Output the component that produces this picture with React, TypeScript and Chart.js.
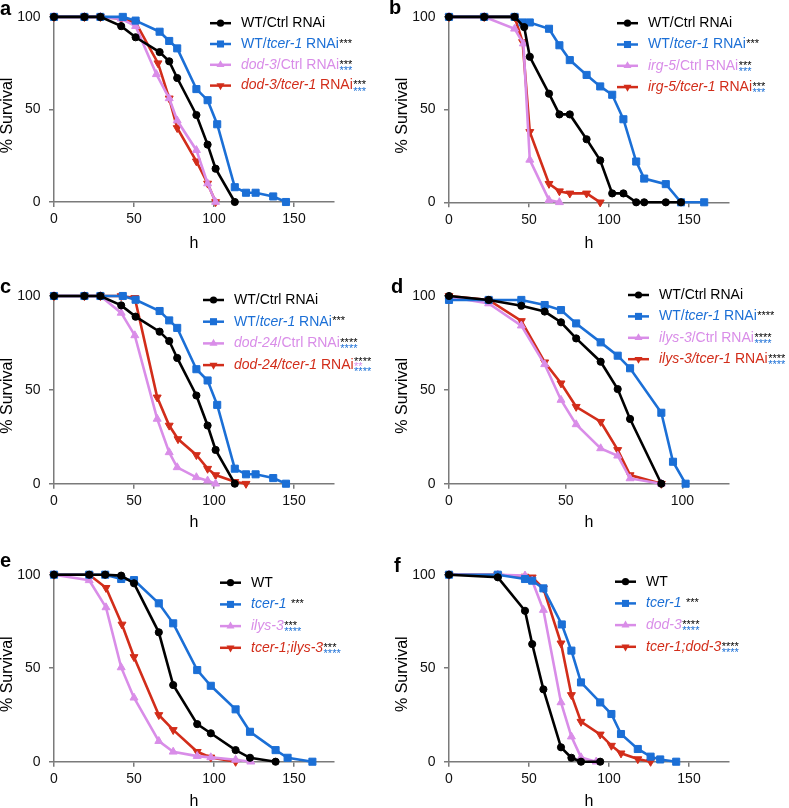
import React, { useEffect, useRef } from "react";
import { Chart, registerables } from "chart.js";

Chart.register(...registerables);

const FONT = '"Liberation Sans", Arial, Helvetica, sans-serif';
const BLACK = "#000000";
const BLUE = "#1b6fd6";
const PINK = "#d98de8";
const RED = "#d22d1a";
const AXIS = "#7a7a7a";

// ---- tick labels ----
const yTicks = [0, 50, 100];
const xTicksWide = [0, 50, 100, 150];
const xTicksD = [0, 50, 100];

// ---- panel a (hours, % survival) ----
const aWtCtrl = [[0, 100], [19, 100], [29, 100], [42, 95], [51, 89], [66, 81], [72, 76], [77, 67], [89, 47], [96, 31], [101, 18], [113, 0]];
const aWtTcer = [[0, 100], [19, 100], [29, 100], [43, 100], [51, 98], [66, 92], [72, 87], [77, 83], [89, 61], [96, 55], [102, 42], [113, 8], [120, 5], [126, 5], [137, 3], [145, 0]];
const aMutCtrl = [[0, 100], [19, 100], [29, 100], [42, 99], [51, 95], [64, 69], [72, 56], [77, 44], [89, 28], [96, 10], [101, 0]];
const aMutTcer = [[0, 100], [19, 100], [29, 100], [42, 99], [51, 97], [65, 75], [72, 56], [77, 40], [89, 22], [96, 10], [101, 0]];

// ---- panel b ----
const bWtCtrl = [[0, 100], [22, 100], [41, 100], [47, 94.5], [50.5, 78.5], [62.5, 58.6], [69, 47.4], [75.5, 47.4], [86, 34], [94.5, 22.6], [102, 4.8], [109, 4.8], [117, 0], [122, 0], [135.5, 0], [145, 0]];
const bWtTcer = [[0, 100], [22, 100], [41, 100], [46, 97], [50.5, 97], [62.5, 93.6], [69, 84.7], [75.5, 76.7], [86, 68.7], [94.5, 62.5], [102, 58], [109, 44.8], [117, 22], [122, 12.8], [135.5, 9.8], [145, 0], [159.5, 0]];
const bMutCtrl = [[0, 100], [22, 100], [41, 93.6], [46.5, 85.6], [50.5, 22.9], [62.5, 1.2], [69, 0]];
const bMutTcer = [[0, 100], [22, 100], [41, 100], [46, 86.5], [50.5, 38], [62.5, 10], [69, 6], [75.5, 4.8], [86, 4.8], [94.5, 0]];

// ---- panel c ----
const cWtCtrl = [[0, 100], [19, 100], [29, 100], [42, 95], [51, 89], [66, 81], [72, 76], [77, 67], [89, 47], [96, 31], [101, 18], [113, 0]];
const cWtTcer = [[0, 100], [19, 100], [29, 100], [43, 100], [51, 98], [66, 92], [72, 87], [77, 83], [89, 61], [96, 55], [102, 42], [113, 8], [120, 5], [126, 5], [137, 3], [145, 0]];
const cMutCtrl = [[0, 100], [19, 100], [29, 100], [42, 91], [50.5, 79], [64.5, 34.5], [72, 16.7], [77, 8.7], [89, 3.4], [96, 1.6], [101, 0]];
const cMutTcer = [[0, 100], [19, 100], [29, 100], [42, 100], [50.5, 99], [64.5, 46], [72, 31], [77.5, 23.8], [89, 15.3], [96, 8], [101, 4.6], [113, 1], [120, 0]];

// ---- panel d ----
const dWtCtrl = [[0, 100], [17, 97.9], [31, 94.8], [41, 91.7], [48, 86], [54.5, 77.4], [65, 65], [72.3, 50.4], [77.6, 34.5], [91, 0]];
const dWtTcer = [[0, 97.9], [17, 97.9], [31, 97.9], [41, 95.2], [48, 92.5], [54.5, 85.4], [65, 75.3], [72.3, 68.2], [77.6, 61.5], [91, 37.8], [96, 11.7], [101.4, 0]];
const dMutCtrl = [[0, 99.6], [17, 96], [31, 84.2], [41, 63.6], [48, 44.6], [54.5, 31.6], [65, 18.8], [72.3, 14.9], [77.6, 2.8], [91, 0]];
const dMutTcer = [[0, 100], [17, 97.9], [31, 86.7], [41, 64.7], [48, 53.5], [54.5, 41], [65, 33], [72.3, 18], [77.6, 4.6], [91, 0]];

// ---- panel e ----
const eWt = [[0, 100], [22, 100], [32, 100], [42, 99.5], [50, 95.4], [65.5, 69.2], [74.5, 41], [89.5, 20.1], [98, 15.2], [113.5, 6.2], [122.5, 2.1], [138.5, 0]];
const eTcer = [[0, 100], [22, 100], [32, 100], [42, 97.7], [50, 97.1], [65.5, 84.7], [74.5, 74], [89.5, 49], [98, 40.6], [113.5, 28], [122.5, 16], [138.5, 6.2], [146, 2.1], [161.5, 0]];
const eMut = [[0, 100], [22, 97], [32.5, 82.5], [42, 50.4], [50, 34.2], [65.5, 11], [74.5, 5.3], [89.5, 3], [98, 2.3], [113.5, 1], [123, 0]];
const eDouble = [[0, 100], [22, 100], [32.5, 93], [42.5, 73.4], [50, 56], [65.5, 25], [74.5, 17], [89.5, 5.3], [98, 2.3], [113.5, 0]];

// ---- panel f ----
const fWt = [[0, 100], [30.5, 98.6], [47.5, 80.7], [52, 62.9], [59, 38.7], [70, 7.7], [76.5, 2.1], [82.5, 0], [94.5, 0]];
const fTcer = [[0, 100], [30.5, 100], [47.5, 97.7], [52, 96.8], [59, 92.7], [70.5, 73.4], [76.5, 59.4], [82.5, 42.4], [94.5, 31.7], [101.5, 25.5], [107.5, 14.8], [118, 6.8], [126, 2.7], [132, 1.2], [142, 0]];
const fMut = [[0, 100], [30.5, 100], [47.5, 99.5], [52, 96.8], [59, 81.1], [70, 31.7], [76.5, 13.4], [82.5, 2.3], [92, 0]];
const fDouble = [[0, 100], [30.5, 100], [47.5, 99], [52, 98.6], [59, 92.7], [70, 63.3], [76.5, 35.7], [82.5, 21.4], [94.5, 14.6], [101.5, 8.6], [107.5, 4.5], [118, 1.4], [126, 0]];

// ---- legend labels: [text, italic] segments and significance stars ----
type Seg = [string, boolean];
type Star = [string, string];
type Entry = { seg: Seg[]; stars: Star[] };

const aLegend: Entry[] = [
  { seg: [["WT/Ctrl RNAi", false]], stars: [] },
  { seg: [["WT/", false], ["tcer-1", true], [" RNAi", false]], stars: [["***", BLACK]] },
  { seg: [["dod-3", true], ["/Ctrl RNAi", false]], stars: [["***", BLACK], ["***", BLUE]] },
  { seg: [["dod-3/tcer-1", true], [" RNAi", false]], stars: [["***", BLACK], ["***", BLUE]] },
];
const bLegend: Entry[] = [
  { seg: [["WT/Ctrl RNAi", false]], stars: [] },
  { seg: [["WT/", false], ["tcer-1", true], [" RNAi", false]], stars: [["***", BLACK]] },
  { seg: [["irg-5", true], ["/Ctrl RNAi", false]], stars: [["***", BLACK], ["***", BLUE]] },
  { seg: [["irg-5/tcer-1", true], [" RNAi", false]], stars: [["***", BLACK], ["***", BLUE]] },
];
const cLegend: Entry[] = [
  { seg: [["WT/Ctrl RNAi", false]], stars: [] },
  { seg: [["WT/", false], ["tcer-1", true], [" RNAi", false]], stars: [["***", BLACK]] },
  { seg: [["dod-24", true], ["/Ctrl RNAi", false]], stars: [["****", BLACK], ["****", BLUE]] },
  { seg: [["dod-24/tcer-1", true], [" RNAi", false]], stars: [["****", BLACK], ["**", PINK], ["****", BLUE]] },
];
const dLegend: Entry[] = [
  { seg: [["WT/Ctrl RNAi", false]], stars: [] },
  { seg: [["WT/", false], ["tcer-1", true], [" RNAi", false]], stars: [["****", BLACK]] },
  { seg: [["ilys-3", true], ["/Ctrl RNAi", false]], stars: [["****", BLACK], ["****", BLUE]] },
  { seg: [["ilys-3/tcer-1", true], [" RNAi", false]], stars: [["****", BLACK], ["****", BLUE]] },
];
const eLegend: Entry[] = [
  { seg: [["WT", false]], stars: [] },
  { seg: [["tcer-1", true], [" ", false]], stars: [["***", BLACK]] },
  { seg: [["ilys-3", true]], stars: [["***", BLACK], ["****", BLUE]] },
  { seg: [["tcer-1;ilys-3", true]], stars: [["***", BLACK], ["****", BLUE]] },
];
const fLegend: Entry[] = [
  { seg: [["WT", false]], stars: [] },
  { seg: [["tcer-1", true], [" ", false]], stars: [["***", BLACK]] },
  { seg: [["dod-3", true]], stars: [["****", BLACK], ["****", BLUE]] },
  { seg: [["tcer-1;dod-3", true]], stars: [["****", BLACK], ["****", BLUE]] },
];

// series styles (order: black circle, blue square, pink up-triangle, red down-triangle)
const STYLES = [
  { color: BLACK, point: "circle", r: 3.6, rot: 0 },
  { color: BLUE, point: "rect", r: 5, rot: 0 },
  { color: PINK, point: "triangle", r: 4.6, rot: 0 },
  { color: RED, point: "triangle", r: 4.6, rot: 180 },
];

type PanelCfg = {
  letter: string;
  letterX: number;
  letterY: number;
  left: number;
  top: number;
  w: number;
  h: number;
  chartLeft: number;
  chartRight: number;
  chartTop: number;
  axisH: number;
  xMax: number;
  xTicks: number[];
  hOffset: number;
  lx: number;
  ly: number;
  gap: number;
  series: number[][][];
  legend: Entry[];
};

const PANELS: PanelCfg[] = [
  { letter: "a", letterX: 0, letterY: 15, left: 0, top: 0, w: 385, h: 265, chartLeft: 54, chartRight: 334, chartTop: 14.7, axisH: 63, xMax: 175, xTicks: xTicksWide, hOffset: 41.5, lx: 156, ly: 6.3, gap: 20.8, series: [aWtCtrl, aWtTcer, aMutCtrl, aMutTcer], legend: aLegend },
  { letter: "b", letterX: 4, letterY: 14, left: 385, top: 0, w: 404, h: 265, chartLeft: 64, chartRight: 344, chartTop: 14.7, axisH: 62.7, xMax: 175, xTicks: xTicksWide, hOffset: 41.7, lx: 168, ly: 6.3, gap: 21.3, series: [bWtCtrl, bWtTcer, bMutCtrl, bMutTcer], legend: bLegend },
  { letter: "c", letterX: 0, letterY: 28.3, left: 0, top: 265, w: 385, h: 270, chartLeft: 54, chartRight: 334, chartTop: 31, axisH: 51.3, xMax: 175, xTicks: xTicksWide, hOffset: 38.6, lx: 149, ly: 4, gap: 21.7, series: [cWtCtrl, cWtTcer, cMutCtrl, cMutTcer], legend: cLegend },
  { letter: "d", letterX: 6, letterY: 28.3, left: 385, top: 265, w: 404, h: 270, chartLeft: 64, chartRight: 344, chartTop: 31, axisH: 51.3, xMax: 120, xTicks: xTicksD, hOffset: 38.6, lx: 179, ly: -1, gap: 21.4, series: [dWtCtrl, dWtTcer, dMutCtrl, dMutTcer], legend: dLegend },
  { letter: "e", letterX: 0, letterY: 31.7, left: 0, top: 535, w: 385, h: 273, chartLeft: 54, chartRight: 334, chartTop: 39.7, axisH: 46.3, xMax: 175, xTicks: xTicksWide, hOffset: 40, lx: 166, ly: 8, gap: 21.7, series: [eWt, eTcer, eMut, eDouble], legend: eLegend },
  { letter: "f", letterX: 9, letterY: 36.7, left: 385, top: 535, w: 404, h: 273, chartLeft: 64, chartRight: 344, chartTop: 39.7, axisH: 46.3, xMax: 175, xTicks: xTicksWide, hOffset: 40, lx: 166, ly: 7, gap: 21.7, series: [fWt, fTcer, fMut, fDouble], legend: fLegend },
];

function drawMarker(ctx: CanvasRenderingContext2D, kind: string, x: number, y: number, r: number, rot: number) {
  ctx.beginPath();
  if (kind === "circle") {
    ctx.arc(x, y, r, 0, Math.PI * 2);
  } else if (kind === "rect") {
    const s = Math.SQRT1_2 * r;
    ctx.rect(x - s, y - s, 2 * s, 2 * s);
  } else {
    let rad = (rot * Math.PI) / 180;
    ctx.moveTo(x + Math.sin(rad) * r, y - Math.cos(rad) * r);
    rad += (2 * Math.PI) / 3;
    ctx.lineTo(x + Math.sin(rad) * r, y - Math.cos(rad) * r);
    rad += (2 * Math.PI) / 3;
    ctx.lineTo(x + Math.sin(rad) * r, y - Math.cos(rad) * r);
    ctx.closePath();
  }
  ctx.fill();
}

const overlayPlugin = {
  id: "panelOverlay",
  afterDraw(chart: any, _args: any, opts: any) {
    const p: PanelCfg = opts.panel;
    if (!p) return;
    const { ctx, chartArea } = chart;
    ctx.save();
    // panel letter
    ctx.fillStyle = "#000";
    ctx.textAlign = "left";
    ctx.textBaseline = "alphabetic";
    ctx.font = `bold 20px ${FONT}`;
    ctx.fillText(p.letter, p.letterX, p.letterY);

    // y title
    ctx.save();
    ctx.translate(chartArea.left - 46.5, (chartArea.top + chartArea.bottom) / 2 + 6);
    ctx.rotate(-Math.PI / 2);
    ctx.font = `16px ${FONT}`;
    ctx.textAlign = "center";
    ctx.textBaseline = "middle";
    ctx.fillText("% Survival", 0, 0);
    ctx.restore();

    // x title
    ctx.font = `16px ${FONT}`;
    ctx.textAlign = "center";
    ctx.textBaseline = "middle";
    ctx.fillText("h", (chartArea.left + chartArea.right) / 2, chartArea.bottom + p.hOffset);

    // legend
    p.legend.forEach((entry, i) => {
      const st = STYLES[i];
      const y = chartArea.top + p.ly + i * p.gap;
      const x0 = chartArea.left + p.lx;
      ctx.strokeStyle = st.color;
      ctx.fillStyle = st.color;
      ctx.lineWidth = 2.5;
      ctx.beginPath();
      ctx.moveTo(x0, y);
      ctx.lineTo(x0 + 21, y);
      ctx.stroke();
      drawMarker(ctx, st.point, x0 + 10.5, y, st.r, st.rot);

      let tx = x0 + 31;
      ctx.textAlign = "left";
      ctx.textBaseline = "middle";
      entry.seg.forEach(([t, it]) => {
        ctx.font = `${it ? "italic " : ""}14px ${FONT}`;
        ctx.fillStyle = st.color;
        ctx.fillText(t, tx, y);
        tx += ctx.measureText(t).width;
      });
      const n = entry.stars.length;
      const offs = n === 1 ? [-3.5] : n === 2 ? [-3.5, 2.8] : [-6, -1, 4];
      ctx.font = `11px ${FONT}`;
      ctx.textBaseline = "alphabetic";
      entry.stars.forEach(([t, c], k) => {
        ctx.fillStyle = c;
        ctx.fillText(t, tx + 0.5, y + offs[k] + 6.2);
      });
    });
    ctx.restore();
  },
};

function Panel({ cfg }: { cfg: PanelCfg }) {
  const ref = useRef<HTMLCanvasElement | null>(null);
  useEffect(() => {
    if (!ref.current) return;
    const datasets = cfg.series.map((s, i) => {
      const st = STYLES[i];
      return {
        data: s.map(([x, y]) => ({ x, y })),
        borderColor: st.color,
        backgroundColor: st.color,
        borderWidth: 2.6,
        tension: 0,
        fill: false,
        pointStyle: st.point,
        pointRadius: st.r,
        pointRotation: st.rot,
        pointBorderWidth: 1,
        pointBorderColor: st.color,
        pointBackgroundColor: st.color,
        clip: false,
      };
    });
    const chart = new Chart(ref.current, {
      type: "line",
      data: { datasets: datasets as any },
      plugins: [overlayPlugin as any],
      options: {
        animation: false,
        responsive: false,
        maintainAspectRatio: false,
        devicePixelRatio: 1,
        events: [],
        layout: { padding: { left: 0, top: cfg.chartTop, right: cfg.w - cfg.chartRight, bottom: 0 } },
        plugins: {
          legend: { display: false },
          tooltip: { enabled: false },
          panelOverlay: { panel: cfg },
        } as any,
        scales: {
          x: {
            type: "linear",
            min: 0,
            max: cfg.xMax,
            afterBuildTicks: (s: any) => {
              s.ticks = cfg.xTicks.map((v) => ({ value: v }));
            },
            afterFit: (s: any) => {
              s.height = cfg.axisH;
            },
            ticks: { color: "#111", font: { family: FONT, size: 14 }, padding: 4, maxRotation: 0, autoSkip: false },
            grid: { drawOnChartArea: false, drawTicks: true, tickLength: 5, color: AXIS, lineWidth: 1.5 },
            border: { display: true, color: AXIS, width: 1.5 },
          },
          y: {
            type: "linear",
            min: 0,
            max: 100,
            afterBuildTicks: (s: any) => {
              s.ticks = yTicks.map((v) => ({ value: v }));
            },
            afterFit: (s: any) => {
              s.width = cfg.chartLeft;
            },
            ticks: { color: "#111", font: { family: FONT, size: 14 }, padding: 8.5, autoSkip: false },
            grid: { drawOnChartArea: false, drawTicks: true, tickLength: 5, color: AXIS, lineWidth: 1.5 },
            border: { display: true, color: AXIS, width: 1.5 },
          },
        },
      } as any,
    });
    return () => chart.destroy();
  }, [cfg]);
  return (
    <div style={{ position: "absolute", left: cfg.left, top: cfg.top, width: cfg.w, height: cfg.h }}>
      <canvas ref={ref} width={cfg.w} height={cfg.h} style={{ width: cfg.w, height: cfg.h, display: "block" }} />
    </div>
  );
}

export default function App() {
  return (
    <div style={{ position: "absolute", left: 0, top: 0, width: 789, height: 808, background: "#fff", overflow: "hidden" }}>
      {PANELS.map((p) => (
        <Panel key={p.letter} cfg={p} />
      ))}
    </div>
  );
}
